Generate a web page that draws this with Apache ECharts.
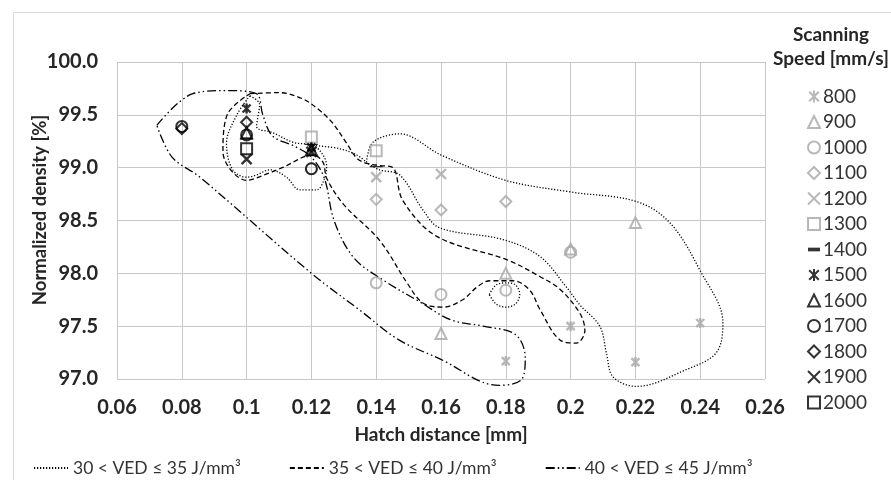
<!DOCTYPE html>
<html><head><meta charset="utf-8">
<script src="https://cdn.jsdelivr.net/npm/echarts@6/dist/echarts.min.js"></script>
<style>html,body{margin:0;padding:0;background:#fff}#c{width:891px;height:480px}</style>
</head><body><div id="c"></div>
<script>
// ---- scatter data: [hatch distance (mm), normalized density (%)] ----
const speeds = ['800','900','1000','1100','1200','1300','1400','1500','1600','1700','1800','1900','2000'];
const s800  = [[0.18,97.17],[0.20,97.50],[0.22,97.16],[0.24,97.53]];
const s900  = [[0.16,97.43],[0.18,98.00],[0.20,98.23],[0.22,98.48]];
const s1000 = [[0.12,98.99],[0.14,97.91],[0.16,97.80],[0.18,97.84],[0.20,98.20]];
const s1100 = [[0.14,98.70],[0.16,98.60],[0.18,98.68]];
const s1200 = [[0.14,98.91],[0.16,98.94]];
const s1300 = [[0.12,99.29],[0.14,99.16]];
const s1400 = [[0.10,99.27],[0.12,99.22],[0.14,99.01]];
const s1500 = [[0.10,99.56],[0.12,99.19]];
const s1600 = [[0.10,99.33],[0.12,99.17]];
const s1700 = [[0.08,99.39],[0.10,99.31],[0.12,98.99]];
const s1800 = [[0.08,99.37],[0.10,99.43]];
const s1900 = [[0.10,99.08],[0.12,99.15]];
const s2000 = [[0.10,99.18]];

// ---- VED region outlines ----
const vedNames = ['30 < VED ≤ 35 J/mm³','35 < VED ≤ 40 J/mm³','40 < VED ≤ 45 J/mm³'];
const ved30a = [[0.137,99.05],[0.139,99.24],[0.1473,99.32],[0.16,99.12],[0.18,98.88],[0.20,98.77],[0.2203,98.68],[0.2306,98.48],[0.2399,98.03],[0.247,97.53],[0.245,97.25],[0.2358,97.09],[0.2203,96.93],[0.2131,97.02],[0.2111,97.24],[0.209,97.50],[0.2029,97.70],[0.1987,97.87],[0.1905,98.16],[0.1791,98.32],[0.1596,98.43],[0.1544,98.60],[0.1473,98.93],[0.141,98.98],[0.137,99.05]];
const ved30b = [[0.101,99.68],[0.097,99.50],[0.0938,99.23],[0.0957,98.98],[0.100,98.91],[0.103,98.93],[0.1072,98.98],[0.1123,98.91],[0.1164,98.79],[0.1216,98.79],[0.1241,98.90],[0.1247,99.01],[0.1236,99.12],[0.1205,99.21],[0.1144,99.24],[0.1082,99.33],[0.1031,99.39],[0.104,99.60],[0.101,99.68]];
const ved30c = [[0.1749,97.80],[0.177,97.89],[0.180,97.91],[0.183,97.89],[0.1843,97.80],[0.183,97.71],[0.180,97.68],[0.177,97.71],[0.1749,97.80]];
const ved30d = [[0.1205,99.21],[0.1286,99.18],[0.134,99.12],[0.137,99.05]];
const ved35a = [[0.101,99.70],[0.110,99.71],[0.1174,99.65],[0.1226,99.54],[0.1266,99.42],[0.1309,99.23],[0.134,99.09],[0.1371,99.04],[0.1411,99.02],[0.1452,99.00],[0.1482,98.69],[0.1587,98.35],[0.1802,98.13],[0.1905,97.97],[0.1967,97.85],[0.2029,97.62],[0.2044,97.46],[0.2018,97.34],[0.1967,97.37],[0.1905,97.66],[0.1874,97.84],[0.1822,97.93],[0.1751,97.93],[0.1711,97.87],[0.1667,97.75],[0.1606,97.68],[0.1544,97.72],[0.1495,97.91],[0.1411,98.31],[0.130,98.65],[0.1247,98.90],[0.1236,99.05],[0.1205,99.12],[0.111,99.00],[0.107,98.95],[0.100,98.88],[0.0927,99.15],[0.094,99.50],[0.101,99.70]];
const ved40a = [[0.0723,99.40],[0.0834,99.70],[0.0939,99.73],[0.103,99.70],[0.105,99.50],[0.108,99.30],[0.115,99.20],[0.120,99.10],[0.124,98.90],[0.127,98.50],[0.133,98.15],[0.142,97.94],[0.154,97.72],[0.163,97.56],[0.173,97.50],[0.183,97.42],[0.186,97.20],[0.185,97.00],[0.178,96.94],[0.172,96.98],[0.161,97.17],[0.147,97.37],[0.135,97.65],[0.120,98.00],[0.0856,98.91],[0.077,99.10],[0.0723,99.40]];

const GRAY = '#a6a6a6', BLACK = '#000000';
const P_AST = 'path://M1,1L9,9M9,1L1,9M5,0L5,10';
const P_X = 'path://M0,0L10,10M10,0L0,10';
const P_DASH = 'path://M0,0L13,0L13,4L0,4Z';
const markerStyle = {
  '800':  {symbol:P_AST, size:10, color:GRAY, line:true},
  '900':  {symbol:'triangle', size:11, color:GRAY},
  '1000': {symbol:'circle', size:11, color:GRAY},
  '1100': {symbol:'diamond', size:11, color:GRAY},
  '1200': {symbol:P_X, size:10, color:GRAY, line:true},
  '1300': {symbol:'rect', size:11, color:GRAY},
  '1400': {symbol:P_DASH, size:[13,4], color:BLACK, solid:true},
  '1500': {symbol:P_AST, size:10, color:BLACK, line:true},
  '1600': {symbol:'triangle', size:11, color:BLACK},
  '1700': {symbol:'circle', size:11, color:BLACK},
  '1800': {symbol:'diamond', size:11, color:BLACK},
  '1900': {symbol:P_X, size:10, color:BLACK, line:true},
  '2000': {symbol:'rect', size:11, color:BLACK}
};
const speedData = [s800,s900,s1000,s1100,s1200,s1300,s1400,s1500,s1600,s1700,s1800,s1900,s2000];

const FONT = 'Lato, "Open Sans", sans-serif';
const series = [];
const dashTypes = [[1.2,1.8],[5,3],[9,3,1.5,3,1.5,3]];
[[ved30a,0],[ved30b,0],[ved30c,0],[ved30d,0],[ved35a,1],[ved40a,2]].forEach(([d,k])=>{
  series.push({type:'line', name:vedNames[k], data:d, smooth:0.35, showSymbol:false, symbol:'none',
    clip:false, silent:true, z:1, itemStyle:{color:'#000', opacity:0},
    lineStyle:{color:'#000', width:1.3, type:dashTypes[k]}});
});
speeds.forEach((s,i)=>{
  const m = markerStyle[s];
  series.push({type:'scatter', name:s, data:speedData[i], symbol:m.symbol, symbolSize:m.size, symbolKeepAspect:true, z:5,
    itemStyle: m.solid ? {color:m.color} : {color:'rgba(0,0,0,0)', borderColor:m.color, borderWidth: m.line?2.4:2}});
});

const chart = echarts.init(document.getElementById('c'), null, {renderer:'canvas'});
chart.setOption({
  animation:false,
  backgroundColor:'#fff',
  textStyle:{fontFamily:FONT},
  grid:{left:117, right:126, top:62, bottom:101},
  xAxis:{type:'value', min:0.06, max:0.26, interval:0.02,
    name:'Hatch distance [mm]', nameLocation:'middle', nameGap:46,
    nameTextStyle:{fontFamily:FONT, fontWeight:'bold', fontSize:19, color:'#262626'},
    axisLine:{show:false}, axisTick:{show:false},
    splitLine:{show:true, lineStyle:{color:'#c8c8c8', width:1}},
    axisLabel:{margin:19, fontFamily:FONT, fontWeight:'bold', fontSize:20, color:'#262626',
      formatter:v=>String(parseFloat(v.toFixed(2)))}},
  yAxis:{type:'value', min:97, max:100, interval:0.5,
    axisLine:{show:false}, axisTick:{show:false},
    splitLine:{show:true, lineStyle:{color:'#c8c8c8', width:1}},
    axisLabel:{margin:19, fontFamily:FONT, fontWeight:'bold', fontSize:20, color:'#262626',
      formatter:v=>v.toFixed(1)}},
  legend:[
    {data:speeds, orient:'vertical', left:802, top:82, itemWidth:12, itemHeight:12, itemGap:6.5,
      textStyle:{fontFamily:FONT, fontSize:19, lineHeight:19, color:'#333', padding:[0,0,0,-2]}},
    {data:vedNames, orient:'horizontal', left:28, top:454, itemWidth:34, itemHeight:12, itemGap:48,
      textStyle:{fontFamily:FONT, fontSize:17.5, color:'#333'}}
  ],
  graphic:[
    {type:'rect', silent:true, z:-10, shape:{x:13.5, y:12.5, width:900, height:500}, style:{fill:'none', stroke:'#d9d9d9', lineWidth:1}},
    {type:'text', silent:true, x:831, y:25, style:{text:'Scanning', fontFamily:FONT, fontWeight:'bold', fontSize:19, fill:'#262626', textAlign:'center'}},
    {type:'text', silent:true, x:831, y:49, style:{text:'Speed [mm/s]', fontFamily:FONT, fontWeight:'bold', fontSize:19, fill:'#262626', textAlign:'center'}},
    {type:'text', silent:true, rotation:Math.PI/2, x:40, y:210, style:{text:'Normalized density [%]', fontFamily:FONT, fontWeight:'bold', fontSize:18.5, fill:'#262626', textAlign:'center', textVerticalAlign:'middle'}}
  ],
  series:series
});
</script></body></html>
